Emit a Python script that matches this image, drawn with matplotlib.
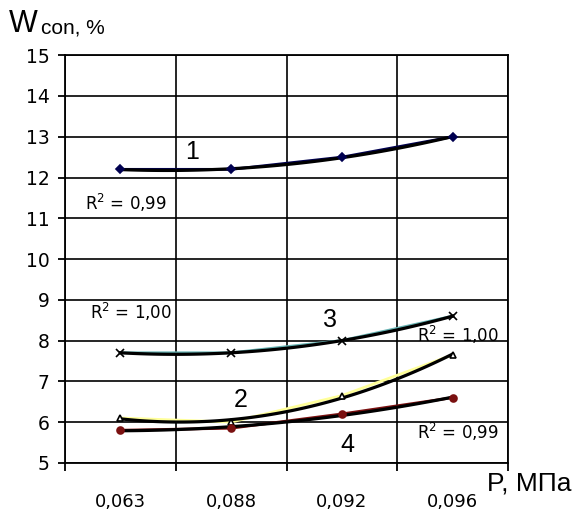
import numpy as np
import matplotlib.pyplot as plt

pressure = ["0,063", "0,088", "0,092", "0,096"]
w1 = [12.2, 12.2, 12.5, 13.0]
w2 = [6.1, 6.0, 6.65, 7.65]
w3 = [7.7, 7.7, 8.0, 8.6]
w4 = [5.8, 5.85, 6.2, 6.6]
yticks = [5, 6, 7, 8, 9, 10, 11, 12, 13, 14, 15]


def main():
    fig = plt.figure(figsize=(5.8, 5.16), dpi=100)
    ax = fig.add_axes([0.112, 0.103, 0.764, 0.79])
    x = np.arange(len(pressure))
    xs = np.linspace(x[0], x[-1], 100)

    series = [
        (w1, "#000050", "D", "#000050", 4),
        (w2, "#ffff99", "^", "white", 5),
        (w3, "#66b3b3", "x", "black", 6),
        (w4, "#7a1010", "o", "#7a1010", 5),
    ]
    for ys, col, mk, face, ms in series:
        ax.plot(x, ys, color=col, lw=2, zorder=2)
        # quadratic trendline like the Excel one
        c = np.polyfit(x, ys, 2)
        ax.plot(xs, np.polyval(c, xs), color="black", lw=2.3, zorder=3)
        ax.plot(x, ys, ls="none", marker=mk, ms=ms, mfc=face,
                mec="black" if mk == "^" else face, mew=1.2, zorder=4)

    ax.set_xlim(-0.5, len(pressure) - 0.5)
    ax.set_ylim(5, 15)
    ax.set_xticks(x)
    ax.set_xticklabels(pressure)
    ax.set_xticks(np.arange(-0.5, len(pressure)), minor=True)
    ax.set_yticks(yticks)
    ax.tick_params(axis="x", which="major", length=0, pad=22, labelsize=13)
    ax.tick_params(axis="x", which="minor", length=6, width=1.3, direction="out")
    ax.tick_params(axis="y", length=5, width=1.3, pad=6, labelsize=13.5)
    ax.grid(True, which="minor", axis="x", color="black", lw=1.2)
    ax.grid(True, which="major", axis="y", color="black", lw=1.2)
    for s in ax.spines.values():
        s.set_linewidth(1.3)

    big = dict(fontsize=18, ha="center", va="center", family="Liberation Sans")
    small = dict(fontsize=12, ha="center", va="center")
    ax.text(0.65, 12.62, "1", **big)
    ax.text(1.09, 6.54, "2", **big)
    ax.text(1.89, 8.5, "3", **big)
    ax.text(2.05, 5.45, "4", **big)
    ax.text(0.05, 11.37, "R$^2$ = 0,99", **small)
    ax.text(0.1, 8.7, "R$^2$ = 1,00", **small)
    ax.text(3.05, 8.14, "R$^2$ = 1,00", **small)
    ax.text(3.05, 5.76, "R$^2$ = 0,99", **small)

    fig.text(9 / 580, 1 - 24 / 516, "W", fontsize=22, va="center",
             family="Liberation Sans")
    fig.text(41 / 580, 1 - 28 / 516, "con, %", fontsize=15, va="center",
             family="Liberation Sans")
    fig.text(487 / 580, 1 - 484 / 516, "P, МПа", fontsize=19, va="center",
             family="Liberation Sans")

    fig.savefig("out.png", dpi=100)


if __name__ == "__main__":
    main()
